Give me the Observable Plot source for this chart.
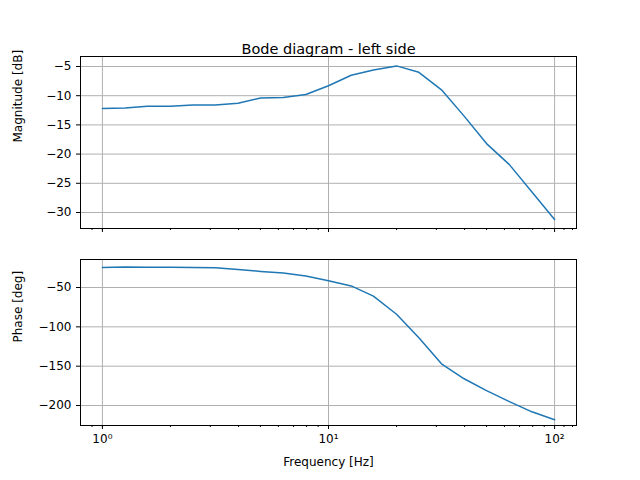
<!DOCTYPE html>
<html><head><meta charset="utf-8">
<script src="https://cdn.jsdelivr.net/npm/d3@7"></script>
<script src="https://cdn.jsdelivr.net/npm/@observablehq/plot@0.6"></script>
<style>body{margin:0;background:#fff}svg{display:block}</style>
</head><body><div id="chart"></div>
<script>
const freq = [1, 1.26, 1.58, 2, 2.51, 3.16, 3.98, 5.01, 6.31, 7.94, 10, 12.6, 15.8, 20, 25.1, 31.6, 39.8, 50, 63.1, 79.4, 100]
const magnitude = [-12.2, -12.1, -11.8, -11.8, -11.6, -11.6, -11.3, -10.4, -10.3, -9.8, -8.3, -6.5, -5.6, -4.9, -6.0, -9.0, -13.5, -18.2, -21.8, -26.5, -31.2]
const phase = [-24.6, -23.8, -24.2, -24.2, -24.6, -25, -27, -29.5, -31.5, -35.5, -41.5, -48, -61, -84, -114, -147, -166, -181, -195, -208, -218]
const majorTicks = [1, 10, 100]
const minorTicks = d3.range(1, 10).concat(d3.range(20, 100, 10), [2, 3, 4, 5, 6, 7, 8, 9].map(d => d / 10), [110, 120])
const supers = {1: "10⁰", 10: "10¹", 100: "10²"}

const magData = freq.map((f, i) => ({f, v: magnitude[i]}))
const phData = freq.map((f, i) => ({f, v: phase[i]}))

const font = "'DejaVu Sans', sans-serif"
const xOpt = {type: "log", domain: [0.8, 125]}

function panel(data, opts) {
  return Plot.plot({
    width: 640, height: 240,
    marginLeft: 80, marginRight: 64, marginTop: opts.mt, marginBottom: opts.mb,
    style: {fontFamily: font, fontSize: "11px", color: "#000"},
    x: xOpt,
    y: {domain: opts.yDomain},
    marks: [
      Plot.gridX(majorTicks, {stroke: "#b0b0b0", strokeOpacity: 1}),
      Plot.gridY(opts.yTicks, {stroke: "#b0b0b0", strokeOpacity: 1}),
      Plot.axisY({ticks: opts.yTicks, tickSize: 4, label: null, tickFormat: d => String(d).replace("-", "−"), fontSize: 12}),
      Plot.axisX({ticks: minorTicks.filter(d => d > 0.8 && d < 125), tickSize: 2, tickFormat: () => "", label: null}),
      Plot.axisX({ticks: majorTicks, tickSize: 4, tickFormat: opts.labels ? d => supers[d] : () => "", fontSize: 12, label: opts.xlabel, labelAnchor: "center", labelArrow: "none", labelOffset: 40}),
      Plot.line(data, {x: "f", y: "v", stroke: "#1f77b4", strokeWidth: 1.5}),
      Plot.frame({stroke: "#000"}),
      Plot.text([opts.ylabel], {frameAnchor: "left", dx: -62, rotate: -90, fontSize: 12}),
      ...(opts.title ? [Plot.text([opts.title], {frameAnchor: "top", dy: -13, fontSize: 14.5})] : [])
    ]
  })
}

const chartTop = panel(magData, {mt: 56, mb: 12, yDomain: [-32.74, -3.29], yTicks: [-5, -10, -15, -20, -25, -30], ylabel: "Magnitude [dB]", title: "Bode diagram - left side", labels: false, xlabel: null})
const chartBottom = panel(phData, {mt: 19, mb: 55, yDomain: [-225.4, -14.4], yTicks: [-50, -100, -150, -200], ylabel: "Phase [deg]", labels: true, xlabel: "Frequency [Hz]"})
document.getElementById("chart").append(chartTop, chartBottom)
</script></body></html>
